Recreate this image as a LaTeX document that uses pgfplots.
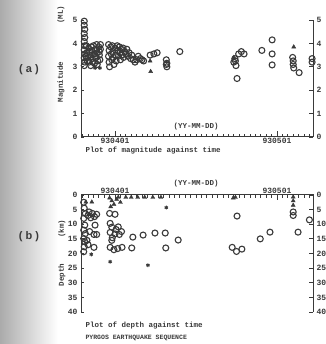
\documentclass[border=0pt]{standalone}
\usepackage{pgfplots}
\pgfplotsset{compat=1.18}
\usepackage{fontspec}
\setmainfont{Liberation Mono}
\newfontfamily\labfont{Liberation Sans}
\definecolor{ink}{HTML}{3A3A3A}
\pgfplotsset{
  common/.style={
    scale only axis, width=232pt, height=117pt,
    xmin=-6.3, xmax=36.67,
    axis line style={draw=none},
    tick align=inside,
    tick style={ink, line width=0.9pt},
    major tick length=4.5pt,
    ticklabel style={font=\bfseries\fontsize{8}{9}\selectfont, text=ink},
    /pgf/number format/assume math mode=true,
    clip=false,
  },
  circ/.style={only marks, mark=o, mark size=3pt, mark options={ink, line width=1.1pt}},
  tri/.style={only marks, mark=triangle*, mark size=2.3pt, mark options={ink, fill=ink}},
  crs/.style={only marks, mark=asterisk, mark size=1.9pt, mark options={ink, line width=1pt}},
}
\begin{document}
\begin{tikzpicture}[x=1pt,y=1pt]
\path[use as bounding box, fill=white] (0,0) rectangle (325,344);
\shade[left color=black!33, right color=white] (0,0) rectangle (58,344);

% ---------------- Panel (a) ----------------
\begin{axis}[common, at={(81pt,207pt)}, anchor=south west,
  ymin=0, ymax=5, ytick={0,...,5}, ytick pos=left, yticklabel pos=left,
  xtick={-6,...,36}, xticklabels={}, xtick pos=bottom, major tick length=3pt,
  extra x ticks={0,30}, extra x tick labels={930401,930501},
  extra x tick style={major tick length=5.5pt, xticklabel style={yshift=2pt}},
  ]
\draw[ink, line width=1pt] (rel axis cs:0,1) -- (rel axis cs:0,0) -- (rel axis cs:1,0) -- (rel axis cs:1,1);
\addplot[circ] table {
x y
-5.7 4.95
-5.7 4.78
-5.6 4.6
-5.7 4.42
-5.6 4.25
-5.7 4.08
-5.6 3.9
-5.7 3.72
-5.6 3.55
-5.7 3.38
-5.6 3.2
-5.7 3.05
-5.2 3.6
-5.0 3.4
-4.9 3.8
-4.8 3.2
-4.6 3.5
-4.5 3.05
-4.3 3.7
-4.2 3.35
-4.0 3.9
-3.9 3.55
-3.8 3.15
-3.6 3.75
-3.5 3.4
-3.4 3.95
-3.3 3.6
-3.2 3.25
-3.0 3.85
-2.9 3.5
-2.9 3.65
-2.8 3.3
-2.7 3.95
-2.7 3.75
-5.3 3.9
-5.1 3.25
-4.7 3.65
-4.4 3.85
-4.1 3.2
-3.7 3.45
-3.3 3.1
-5.4 3.45
-1.2 3.95
-1.1 3.7
-1.2 3.45
-1.1 3.2
-1.0 3.0
-0.8 3.85
-0.7 3.55
-0.6 3.3
-0.5 3.9
-0.4 3.65
-0.3 3.4
-0.2 3.1
0.0 3.8
0.1 3.5
0.2 3.25
0.4 3.9
0.5 3.7
0.6 3.45
0.8 3.85
0.9 3.6
1.0 3.3
1.2 3.75
1.3 3.5
1.5 3.8
1.6 3.4
1.8 3.65
2.0 3.55
2.2 3.75
2.4 3.45
2.6 3.6
2.9 3.35
3.1 3.5
3.4 3.3
3.7 3.2
4.0 3.3
4.3 3.45
4.7 3.35
5.0 3.3
5.3 3.25
6.5 3.5
7.2 3.55
7.8 3.6
9.5 3.3
9.6 3.15
9.6 3.0
9.5 3.1
12.0 3.65
22.0 3.2
22.2 3.35
22.4 3.05
22.3 3.25
22.6 2.5
22.9 3.55
23.4 3.65
23.9 3.55
27.2 3.7
29.1 4.15
29.1 3.55
29.1 3.08
32.9 3.4
33.0 3.25
33.0 3.1
33.1 2.95
34.1 2.75
36.5 3.35
36.5 3.2
};
\addplot[tri] table {
x y
6.5 3.25
6.6 2.8
22.0 3.4
33.1 3.85
};
\addplot[crs] table {
x y
-3.7 2.95
-2.8 2.95
};
\node[font=\bfseries\fontsize{7.5}{8}\selectfont, text=ink] at (axis cs:15,0.45) {(YY-MM-DD)};
\end{axis}
\begin{axis}[common, at={(81pt,207pt)}, anchor=south west,
  ymin=0, ymax=5, ytick={0,...,5}, ytick pos=right, yticklabel pos=right,
  xtick=\empty]
\end{axis}

% ---------------- Panel (b) ----------------
\begin{axis}[common, at={(81pt,32pt)}, anchor=south west,
  ymin=0, ymax=40, y dir=reverse, ytick={0,5,...,40}, ytick pos=left, yticklabel pos=left,
  xtick={-6,...,36}, xticklabels={}, xtick pos=top, xticklabel pos=top, major tick length=3pt,
  extra x ticks={0,30}, extra x tick labels={930401,930501},
  extra x tick style={major tick length=5.5pt, xticklabel style={yshift=-2pt}},
  ]
\draw[ink, line width=1pt] (rel axis cs:0,0) -- (rel axis cs:0,1) -- (rel axis cs:1,1) -- (rel axis cs:1,0);
\addplot[circ] table {
x y
-5.8 2.5
-5.7 4.5
-5.5 6.3
-5.8 8
-5.6 10.3
-5.8 12
-5.5 13.2
-5.8 14.9
-5.6 16
-5.7 17.7
-5.8 19.4
-5.2 15.5
-5.0 7
-4.8 5.8
-4.5 7.8
-4.2 6.3
-3.8 7.4
-3.4 6.6
-3.7 10.3
-3.9 13.5
-3.4 13.5
-3.9 17.9
-4.7 12.5
-5.0 17
-1.0 6.3
0.0 6.6
-0.9 9.7
-0.6 11
0.2 11.8
0.6 10.9
-0.9 12.8
0.0 13.3
0.8 13.5
-0.5 14.6
1.2 12.5
-0.9 17.9
-0.2 18.7
0.5 18.3
1.3 17.9
-0.6 15.5
3.3 14.4
3.1 18.1
5.2 13.7
7.4 13
9.3 13
9.4 18.1
11.7 15.4
22.6 7.2
21.7 17.9
22.5 19.3
23.5 18.5
26.9 15
28.7 12.7
33.0 5.8
33.0 7
33.9 12.7
36.0 8.5
};
\addplot[tri] table {
x y
-5.4 2.4
-4.3 2.4
-1.0 1
-0.6 2
-0.2 3.2
0.3 1.5
-0.8 4
0.6 0.8
1.0 2.5
2.0 0.8
3.0 0.8
4.2 0.8
5.5 0.8
7.0 0.8
8.5 0.8
21.9 1
22.3 0.8
33.0 0.7
33.0 2
33.0 3.5
};
\addplot[crs] table {
x y
-4.4 20.3
-0.9 22.8
6.1 24
9.5 4.3
};
\node[font=\bfseries\fontsize{7.5}{8}\selectfont, text=ink, anchor=south] at (axis cs:15,0) [yshift=4pt] {(YY-MM-DD)};
\end{axis}
\begin{axis}[common, at={(81pt,32pt)}, anchor=south west,
  ymin=0, ymax=40, y dir=reverse, ytick={0,5,...,40}, ytick pos=right, yticklabel pos=right,
  xtick=\empty]
\end{axis}

% ---------------- Labels ----------------
\begin{scope}[every node/.style={font=\bfseries\fontsize{7.5}{8}\selectfont, text=ink}]
\node[rotate=90] at (61,262) {Magnitude};
\node[rotate=90] at (61,329) {(ML)};
\node[anchor=west] at (82,193) {Plot of magnitude against time};
\node[rotate=90] at (62,115) {(km)};
\node[rotate=90] at (62,69) {Depth};
\node[anchor=west] at (82,18) {Plot of depth against time};
\node[anchor=west, font=\bfseries\fontsize{6.5}{7}\selectfont] at (82,6) {PYRGOS EARTHQUAKE SEQUENCE};
\end{scope}
\node[font=\labfont\bfseries\fontsize{11}{12}\selectfont, text=ink] at (29,274) {( a )};
\node[font=\labfont\bfseries\fontsize{11}{12}\selectfont, text=ink] at (29,107) {( b )};
\end{tikzpicture}
\end{document}
